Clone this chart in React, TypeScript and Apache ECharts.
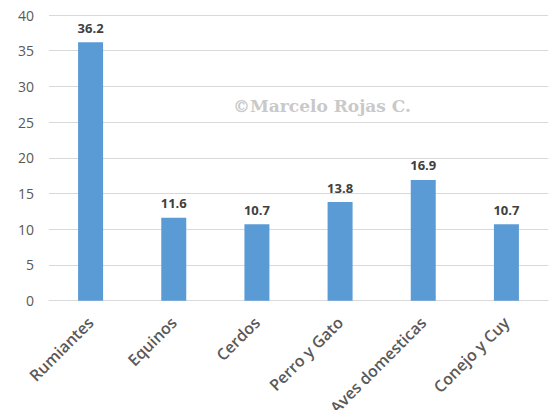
import React, { useEffect, useRef } from "react";
import * as echarts from "echarts";

const categories = ["Rumiantes", "Equinos", "Cerdos", "Perro y Gato", "Aves domesticas", "Conejo y Cuy"];
const values = [36.2, 11.6, 10.7, 13.8, 16.9, 10.7];
const watermark = "©Marcelo Rojas C.";

export default function App() {
  const ref = useRef<HTMLDivElement>(null);
  useEffect(() => {
    const chart = echarts.init(ref.current!, null, { renderer: "svg" });
    chart.setOption({
      animation: false,
      grid: { left: 49, right: 12, top: 15, bottom: 117, containLabel: false },
      xAxis: {
        type: "category",
        data: categories,
        axisLine: { lineStyle: { color: "#d9d9d9", width: 1 } },
        axisTick: { show: false },
        axisLabel: {
          rotate: 45,
          interval: 0,
          margin: 19,
          color: "#595959",
          fontSize: 16,
          fontWeight: 600,
          fontFamily: "Open Sans",
        },
      },
      yAxis: {
        type: "value",
        min: 0,
        max: 40,
        interval: 5,
        axisLine: { show: false },
        axisTick: { show: false },
        splitLine: { lineStyle: { color: "#d9d9d9", width: 1 } },
        axisLabel: { color: "#595959", fontSize: 14, margin: 15, fontFamily: "Open Sans" },
      },
      series: [
        {
          type: "bar",
          data: values,
          barWidth: 25,
          itemStyle: { color: "#5b9bd5" },
          label: {
            show: true,
            position: "top",
            distance: 8,
            color: "#404040",
            fontSize: 13,
            fontWeight: "bold",
            fontFamily: "Open Sans",
            formatter: (p: any) => p.value.toFixed(1),
          },
        },
      ],
      graphic: [
        {
          type: "text",
          left: 233,
          top: 97,
          style: {
            text: watermark,
            fill: "#c9c9c9",
            font: "bold 17px 'DejaVu Serif'",
          },
        },
      ],
    });
    return () => chart.dispose();
  }, []);
  return <div ref={ref} style={{ width: 560, height: 418, margin: -8 }} />;
}
